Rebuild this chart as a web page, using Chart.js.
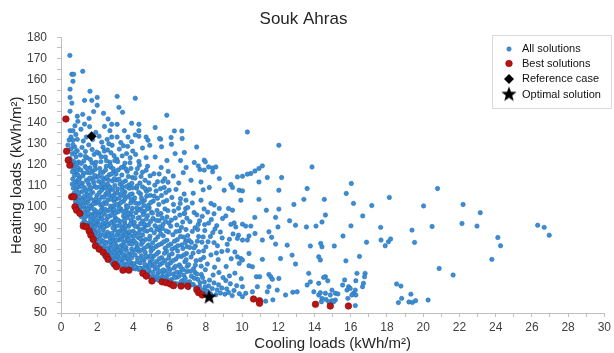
<!DOCTYPE html>
<html>
<head>
<meta charset="utf-8">
<script src="https://cdn.jsdelivr.net/npm/chart.js"></script>
<style>
html,body{margin:0;padding:0;background:#fff;}
#wrap{width:614px;height:353px;position:relative;}
</style>
</head>
<body>
<div id="wrap"><canvas id="c" width="614" height="353"></canvas></div>
<script>
// ---------- DATA ----------
const chartTitle = 'Souk Ahras';
const xAxisTitle = 'Cooling loads (kWh/m²)';
const yAxisTitle = 'Heating loads (kWh/m²)';
const xTickLabels = [0,2,4,6,8,10,12,14,16,18,20,22,24,26,28,30];
const yTickLabels = [50,60,70,80,90,100,110,120,130,140,150,160,170,180];
const legendLabels = ['All solutions','Best solutions','Reference case','Optimal solution'];

// All solutions, cooling load < 3
const allSolutionsA = [
[0.72,106.5],[0.85,108.2],[0.95,103.1],[0.8,102.4],[0.9,105.6],[0.98,109.5],[0.88,101.2],
[0.65,113.2],[0.7,117.8],[0.78,111.5],[0.84,115.3],[0.92,112.6],[0.96,118.4],[0.74,119.5],[0.88,117.1],[0.62,110.8],
[0.5,122.9],[0.55,127.4],[0.62,125.1],[0.7,121.6],[0.76,128.3],[0.83,123.7],[0.9,126.5],[0.97,121.2],[0.66,129.4],
[0.45,131.6],[0.55,133],[0.66,131.5],[0.5,136],[0.66,136],[0.82,134.2],[0.93,140.4],[0.77,138.3],[0.9,131.9],[0.38,129.2],
[0.9,142.8],[0.6,149],[0.5,145.2],[0.49,171.5],[0.6,162.6],[0.7,162.6],[0.66,159.3],[0.5,151.7],[0.5,155.6],
[1.72,87.3],[1.85,85.8],[1.95,83.4],[1.62,89.5],[1.8,88.9],[1.93,87.9],[1.58,92.1],
[1.05,98.9],[1.12,95.4],[1.28,93.5],[1.35,97.6],[1.42,92.3],[1.5,95.8],[1.57,99.2],[1.63,93.9],[1.7,91.4],[1.77,96.7],[1.84,94.1],[1.9,98.3],[1.96,91.8],[1.3,99.7],[1.45,90.8],[1.18,92.2],
[1.02,104.7],[1.08,101.3],[1.15,107.2],[1.22,103.6],[1.3,109.1],[1.36,101.9],[1.43,105.8],[1.5,102.6],[1.56,108.4],[1.63,104.2],[1.69,100.7],[1.75,106.9],[1.82,103.1],[1.88,109.6],[1.94,101.8],[1.99,105.5],
[1.04,113.8],[1.1,117.4],[1.18,111.2],[1.25,115.9],[1.33,119.1],[1.4,112.7],[1.47,116.3],[1.54,110.6],[1.6,118.5],[1.67,113.5],[1.74,116.9],[1.81,111.4],[1.88,119.6],[1.95,114.2],
[1.07,124.5],[1.16,128.1],[1.26,121.7],[1.35,126.2],[1.44,123.2],[1.53,129.3],[1.62,122.4],[1.72,127.1],[1.83,124.8],[1.93,121.1],
[1.1,136.7],[1.4,133],[1.23,131.1],[1.58,137.9],[1.75,131.8],[1.92,135.2],[1.3,139.1],
[1.2,143.7],[1.3,150.3],[1.7,150.3],[1.8,145],[1.55,141.8],[1.2,164],[1.6,154.6],
[2.25,79.6],[2.42,78.1],[2.55,77.9],[2.68,76.2],[2.75,78.8],[2.84,74.9],[2.9,77.1],[2.96,75.6],[2.62,79.3],[2.8,73.8],
[2.02,85.1],[2.07,88.6],[2.14,82.6],[2.2,86.9],[2.27,84.1],[2.33,89.2],[2.38,81.5],[2.45,86.1],[2.5,83.3],[2.57,88.1],[2.63,80.8],[2.7,85.4],[2.76,82.2],[2.82,87.6],[2.88,84.6],[2.93,80.3],[2.98,89.1],[2.35,83.7],
[2.03,93.4],[2.09,97.2],[2.15,90.6],[2.21,95.1],[2.28,99.3],[2.34,92.2],[2.4,96.5],[2.46,90.9],[2.52,94.3],[2.58,98.2],[2.64,91.7],[2.71,95.8],[2.77,99.6],[2.83,93.1],[2.89,97.4],[2.95,91.2],[2.99,95.0],[2.43,99.0],
[2.05,102.4],[2.12,106.8],[2.19,100.9],[2.26,104.7],[2.33,108.9],[2.4,102.1],[2.47,106.1],[2.54,109.7],[2.6,103.4],[2.67,107.5],[2.74,100.4],[2.81,105.2],[2.87,108.3],[2.93,102.9],[2.98,106.4],[2.3,101.3],
[2.06,114.5],[2.14,118.2],[2.23,111.6],[2.32,116.4],[2.41,113.1],[2.5,119.2],[2.58,110.7],[2.67,115.2],[2.75,118.8],[2.84,112.3],[2.92,116.9],[2.97,110.2],
[2.09,125.3],[2.2,121.4],[2.32,128.2],[2.45,123.6],[2.57,126.9],[2.7,121.1],[2.82,129.1],[2.93,124.2],
[2.1,133.4],[2.4,138],[2.8,139],[2.7,136],[2.8,133],[2.25,130.6],[2.55,131.9],
[2.0,151.7],[2.0,148],[2.35,144.2],[2.6,141.5]
];

// All solutions, cooling load 3 - 6
const allSolutionsB = [
[3.1,73.9],[3.15,76.8],[3.22,72.5],[3.3,78.9],[3.37,74.6],[3.45,71.3],[3.5,77.2],[3.56,73.1],[3.62,79.4],[3.68,75.3],[3.74,71.6],[3.8,77.8],[3.86,73.7],[3.91,76.1],[3.96,71.1],[3.26,75.6],
[3.02,82.3],[3.08,86.7],[3.14,80.6],[3.2,84.4],[3.27,88.8],[3.33,81.9],[3.4,86.2],[3.46,83.5],[3.53,89.4],[3.59,80.9],[3.65,85.3],[3.71,87.9],[3.78,82.7],[3.84,86.5],[3.9,80.2],[3.95,84.1],[3.99,88.6],[3.43,80.1],
[3.03,94.2],[3.1,91.1],[3.17,97.8],[3.24,93.3],[3.31,99.1],[3.38,90.4],[3.45,95.7],[3.52,92.6],[3.6,98.5],[3.67,94.9],[3.74,90.9],[3.81,96.6],[3.88,93.7],[3.94,99.4],[3.98,91.9],[3.56,96.2],
[3.05,103.8],[3.13,108.5],[3.21,101.4],[3.29,105.9],[3.37,109.4],[3.45,102.7],[3.53,107.1],[3.61,100.6],[3.69,104.9],[3.77,108.8],[3.85,101.9],[3.93,106.2],[3.98,103.3],
[3.06,112.7],[3.16,117.5],[3.26,110.9],[3.36,115.1],[3.46,119.1],[3.56,112.3],[3.66,116.8],[3.76,110.4],[3.86,118.2],[3.95,113.9],
[3.08,122.6],[3.22,127.3],[3.38,124.1],[3.53,120.7],[3.68,128.6],[3.82,123.2],[3.96,126.4],
[3.1,139],[3.1,133],[3.5,136],[3.7,133],[3.9,139.5],[3.3,130.4],[3.1,152.2],[3.2,147],[3.4,144.7],
[4.6,69.5],[4.78,68.3],[4.85,69.8],[4.95,66.9],[4.1,70.8],[4.3,70.5],
[4.03,73.2],[4.09,77.4],[4.16,71.5],[4.23,75.8],[4.3,79.1],[4.37,73.6],[4.44,77.0],[4.51,71.0],[4.58,74.9],[4.65,78.6],[4.72,72.2],[4.79,76.3],[4.86,70.7],[4.92,74.1],[4.97,79.3],[4.4,70.9],
[4.04,83.9],[4.11,87.5],[4.19,81.2],[4.27,85.6],[4.35,89.3],[4.43,82.4],[4.51,86.8],[4.59,80.5],[4.67,84.7],[4.75,88.6],[4.83,82.1],[4.91,86.2],[4.98,80.9],[4.55,89.8],
[4.05,92.8],[4.14,97.3],[4.23,90.7],[4.32,95.1],[4.41,99.2],[4.5,93.4],[4.6,97.8],[4.69,91.3],[4.78,95.9],[4.87,99.6],[4.95,93.2],[4.27,98.6],
[4.07,104.3],[4.17,108.9],[4.28,101.6],[4.39,106.2],[4.5,109.5],[4.61,103.1],[4.72,107.4],[4.83,100.8],[4.93,105.5],[4.45,102.4],
[4.08,113.6],[4.22,118.1],[4.36,111.3],[4.5,116.4],[4.64,112.6],[4.78,119.2],[4.92,114.7],
[4.12,124.8],[4.3,121.5],[4.5,127.8],[4.7,123.3],[4.9,129.1],
[4.1,134],[4.3,133.4],[4.3,136],[4.7,133],[4.8,131.5],[4.3,139],[4.1,151.3],
[5.1,67.2],[5.25,65.8],[5.35,68.9],[5.5,66.4],[5.62,69.1],[5.72,65.9],[5.85,67.6],[5.95,64.9],[5.42,65.3],[5.78,69.8],
[5.04,72.4],[5.12,76.9],[5.2,70.8],[5.29,74.3],[5.38,78.7],[5.47,72.9],[5.56,76.1],[5.65,70.3],[5.74,74.8],[5.83,79.2],[5.91,71.9],[5.97,77.3],[5.33,71.5],
[5.06,83.1],[5.15,87.8],[5.25,81.4],[5.35,85.9],[5.45,89.1],[5.55,82.7],[5.65,86.4],[5.75,80.6],[5.85,84.3],[5.94,88.2],[5.6,89.9],
[5.08,94.6],[5.19,91.2],[5.3,98.4],[5.41,93.5],[5.52,96.9],[5.63,91.8],[5.74,99.1],[5.85,95.3],[5.96,92.4],
[5.1,102.8],[5.25,107.6],[5.4,101.2],[5.55,105.4],[5.7,109.2],[5.84,103.1],[5.97,107.9],
[5.13,115.7],[5.33,111.9],[5.53,118.6],[5.73,113.4],[5.92,116.8],
[5.2,123.6],[5.55,128.4],[5.85,121.9],
[5.5,132],[5.44,132.3],[5.84,143.3],[5.2,137.5]
];

// All solutions, cooling load 6 - 10
const allSolutionsC = [
[6.1,65.8],[6.2,68.4],[6.32,64.1],[6.41,66.9],[6.5,63.6],[6.58,69.2],[6.7,65.2],[6.78,67.8],[6.88,63.9],[6.95,69.6],
[6.05,73.6],[6.14,77.9],[6.24,71.2],[6.34,75.4],[6.44,79.3],[6.54,72.7],[6.64,76.6],[6.74,70.5],[6.84,74.2],[6.93,78.1],[6.97,72.0],
[6.07,82.5],[6.18,86.9],[6.3,80.8],[6.42,84.6],[6.54,88.7],[6.66,82.1],[6.78,85.8],[6.9,89.4],[6.96,81.3],
[6.09,93.8],[6.24,98.1],[6.4,91.5],[6.56,96.2],[6.72,92.9],[6.88,99.2],[6.95,94.7],
[6.12,104.5],[6.35,108.3],[6.58,101.7],[6.8,106.1],[6.9,103.2],
[6.2,114.6],[6.5,111.3],[6.91,118.6],[6.75,116.2],
[6.3,125.2],[6.81,125.7],[6.6,121.9],[6.26,135.9],[6.67,135.9],[6.08,132.8],[6.69,132.3],[6.1,129.6],
[7.1,64.8],[7.2,67.3],[7.3,63.5],[7.4,69.1],[7.55,65.9],[7.65,62.4],[7.75,68.2],[7.85,60.9],[7.92,64.6],[7.95,59.3],[7.45,62.2],
[7.05,72.8],[7.18,76.4],[7.32,70.9],[7.46,74.7],[7.6,78.9],[7.74,72.1],[7.88,76.2],[7.97,70.4],
[7.08,84.2],[7.25,88.5],[7.42,81.6],[7.6,86.1],[7.78,83.4],[7.94,88.9],
[7.12,93.1],[7.35,97.4],[7.58,91.8],[7.8,95.6],
[7.73,103.2],[7.18,112.6],[7.73,111.8],[7.67,117.7],[7.91,117.4],[7.58,119.4],[7.36,121.0],[7.91,122.1],[7.97,121.3],[7.49,128.3],[7.3,106.5],[7.85,108.1],
[6.6,103.9],[7.0,99.8],[7.25,101.9],[7.5,96.3],[7.9,99.1],[8.1,97.6],[6.8,96.9],[7.4,90.2],[7.65,93.5],[8.3,94.1],[8.6,91.2],[7.0,86.5],[7.2,83.3],[7.55,89.4],[7.85,85.9],[8.25,86.1],[8.45,83.2],[8.8,88.2],[6.9,84.1],[7.35,80.7],[8.0,81.2],
[8.05,60.4],[8.15,62.8],[8.25,59.1],[8.35,61.5],[8.45,64.2],[8.55,58.6],[8.62,60.9],[8.7,63.3],[8.8,59.4],[8.88,61.8],[8.95,66.7],[8.4,67.9],[8.2,65.5],[8.72,69.1],[8.3,58.3],
[8.08,73.1],[8.28,77.4],[8.48,71.6],[8.68,75.2],[8.88,79.0],[8.58,78.3],
[8.12,83.6],[8.38,87.9],[8.64,81.7],[8.9,85.4],[8.5,89.6],
[8.15,92.4],[8.45,96.8],[8.74,99.3],[8.92,94.6],[8.28,101.7],[8.46,100.9],
[8.15,118.9],[8.37,118.4],[8.55,118.9],[8.37,116.6],[8.74,113.4],[8.19,109.2],
[9.05,58.9],[9.15,61.4],[9.25,59.7],[9.35,63.8],[9.45,58.2],[9.55,60.6],[9.7,62.9],[9.85,59.1],[9.95,66.2],[9.3,67.5],[9.6,68.8],[9.1,65.3],
[9.12,71.9],[9.4,75.6],[9.74,76.5],[9.93,75.7],[9.84,73.4],[9.6,78.8],[9.2,79.5],
[9.18,82.4],[9.5,87.3],[9.8,86.7],[9.74,85.2],[9.3,84.8],[9.65,90.6],
[9.56,92.5],[9.38,91.8],[9.25,99.3],[9.47,98.5],[9.1,95.8],
[9.93,103.2],[9.01,107.9],[9.84,107.9],[9.38,110.6],[9.47,109.2],[9.74,114.2]
];

// All solutions, cooling load > 10 (sparse tail)
const allSolutionsD = [
[10.29,135.4],[12.03,129.1],[11.12,119.4],[10.93,118.2],[10.71,117.0],[10.48,115.8],[10.29,115.5],[10.02,114.5],[13.86,118.9],[12.18,113.9],[11.39,113.9],[10.93,111.8],[10.02,107.6],[12.03,107.9],[13.59,108.7],[14.54,103.6],[13.41,103.6],[12.86,101.2],[10.93,103.6],[11.34,98.5],[12.03,99.0],[11.85,95.1],[12.62,93.5],[12.95,91.4],[11.98,90.6],[14.08,91.0],[13.55,90.6],[10.7,95.1],[10.02,91.9],[10.2,91.0],[10.48,91.0],[14.6,96.2],[11.48,88.3],[11.63,85.7],[10.71,87.5],[11.12,84.4],[10.38,86.3],[10.29,84.4],[10.02,84.4],[11.85,82.5],[12.49,82.0],[12.76,77.3],[13.77,81.6],[14.41,81.2],[14.23,76.5],[12.95,73.1],[12.12,75.7],[11.12,75.3],[10.38,78.1],[10.57,71.8],[10.38,72.3],[10.02,75.0],[11.48,68.2],[11.58,67.1],[11.67,65.9],[10.79,67.1],[10.97,67.1],[12.03,66.3],[13.68,68.7],[13.59,63.2],[13.77,64.7],[14.6,67.1],[13.96,60.0],[14.23,58.5],[13.04,60.0],[11.94,60.8],[11.48,62.4],[11.39,60.0],[10.84,62.4],[10.57,60.0],[10.02,62.4],[10.2,59.3],[10.02,57.7],[11.3,55.6],[11.7,56.2],[12.4,58.5],[12.8,59.8],
[16.03,111.1],[15.75,106.4],[16.15,101.7],[17.16,100.7],[18.13,104.5],[20.79,108.7],[22.2,101.2],[20.02,100.5],[16.66,95.8],[14.41,92.9],[16.01,91.1],[17.65,90.4],[19.38,89.1],[20.49,90.8],[22.14,92.2],[15.57,86.3],[14.34,82.8],[15.09,81.6],[16.87,83.4],[17.67,84.4],[18.08,83.6],[18.2,84.9],[17.9,81.7],[19.52,83.3],[16.48,76.7],[15.73,74.6],[14.32,75.0],[20.88,71.0],[21.65,67.9],
[16.34,68.7],[16.79,68.7],[16.76,67.1],[16.28,65.2],[16.7,64.0],[16.65,62.4],[15.66,65.6],[14.5,66.8],[14.73,65.2],[18.53,63.7],[18.77,62.7],[19.32,58.9],[18.63,54.9],[19.21,55.2],[19.4,55.0],[19.58,55.8],[18.81,56.9],[20.27,56.1],[15.55,63.2],[15.88,62.4],[15.97,61.6],[15.79,60.8],[16.25,60.8],[16.15,59.3],[16.28,58.5],[16.06,58.5],[14.23,64.0],[14.32,59.6],[14.6,59.3],[14.87,58.5],[15.15,59.3],[15.29,59.0],[14.96,60.8],[14.41,56.9],[14.63,56.4],[14.96,55.8],[15.15,56.1],[14.38,55.3],[14.78,55.3],[15.05,55.3],[16.25,53.5],[15.84,56.9],
[23.15,97.3],[22.97,91.0],[26.32,91.4],[26.68,90.4],[26.96,86.7],[24.12,85.6],[24.27,81.7],[23.79,75.3]
];

// All solutions, extra points of the dense core (cooling load 0.6 - 8)
const allSolutionsE = [
[0.68,108.9],[0.81,104.3],[0.93,99.6],[0.75,114.9],[0.99,106.7],[0.87,120.4],[0.63,116.6],[0.94,115.1],[0.79,125.8],[0.58,120.9],[0.86,110.2],[0.97,112.9],
[1.07,100.2],[1.33,95.2],[1.61,91.1],[1.88,90.3],[1.14,109.8],[1.47,103.9],[1.79,101.5],[1.26,97.3],[1.52,97.1],[1.91,96.1],[1.38,107.6],[1.67,109.1],[1.21,114.7],[1.58,113.6],[1.86,114.9],[1.11,120.6],[1.42,118.2],[1.71,120.9],[1.97,109.2],[1.83,92.7],[1.74,89.1],[1.99,86.2],[1.55,100.4],[1.29,105.1],[1.64,106.2],[1.93,103.9],[1.19,103.1],[1.48,111.8],[1.77,112.6],[1.37,92.6],[1.04,111.6],[1.9,117.8],[1.62,116.1],[1.34,123.9],[1.98,125.9],[1.45,99.1],[1.81,98.9],[1.68,95.6],[1.23,100.7],[1.94,93.8],
[2.04,81.4],[2.18,84.8],[2.29,80.2],[2.47,82.9],[2.61,86.7],[2.79,80.1],[2.91,82.6],[2.36,87.1],[2.53,79.9],[2.71,83.6],[2.86,85.9],[2.99,78.4],[2.41,76.9],[2.66,77.3],[2.88,72.9],
[2.13,91.7],[2.26,94.2],[2.37,90.4],[2.49,92.6],[2.62,95.5],[2.74,92.4],[2.87,90.1],[2.97,93.3],[2.08,95.9],[2.31,97.4],[2.56,91.3],[2.69,98.7],[2.81,96.4],[2.94,98.8],[2.19,98.2],
[2.11,103.3],[2.24,107.9],[2.38,104.6],[2.51,101.6],[2.63,105.8],[2.77,103.7],[2.9,100.6],[2.16,109.6],[2.44,109.1],[2.7,109.4],[2.96,104.1],[2.57,107.1],
[2.08,112.1],[2.28,113.9],[2.46,117.4],[2.62,112.8],[2.79,115.6],[2.95,113.4],[2.18,116.2],[2.37,110.8],[2.72,119.8],[2.53,114.1],[2.88,118.1],
[2.22,123.7],[2.51,121.8],[2.76,125.6],[2.39,126.4],[2.64,129.8],[2.97,121.9],
[3.04,75.1],[3.19,78.2],[3.34,73.3],[3.48,75.8],[3.63,72.4],[3.78,74.3],[3.93,78.6],[3.12,79.6],[3.41,77.6],[3.7,77.1],[3.85,71.9],[3.55,70.9],
[3.06,84.4],[3.23,81.1],[3.36,84.9],[3.51,81.6],[3.64,83.9],[3.79,88.4],[3.92,82.5],[3.16,88.1],[3.44,88.2],[3.73,84.6],[3.58,86.9],[3.29,86.3],
[3.01,97.1],[3.14,93.9],[3.28,91.4],[3.42,97.9],[3.57,91.1],[3.71,96.9],[3.84,92.1],[3.97,95.3],[3.21,99.6],[3.49,93.8],[3.65,99.8],[3.89,97.7],
[3.07,101.1],[3.22,104.2],[3.39,107.8],[3.54,103.9],[3.68,100.1],[3.82,105.9],[3.96,109.1],[3.31,102.1],[3.6,109.6],[3.11,106.6],[3.47,105.3],[3.88,103.6],
[3.04,115.6],[3.2,113.1],[3.41,111.6],[3.58,117.9],[3.72,114.4],[3.91,111.2],[3.33,118.6],[3.81,120.9],[3.13,121.4],[3.62,125.2],[3.44,128.9],[3.9,130.8],
[4.06,71.8],[4.21,74.1],[4.34,71.1],[4.48,75.3],[4.63,72.9],[4.76,70.1],[4.89,72.8],[4.13,79.8],[4.42,79.6],[4.69,76.9],[4.94,77.1],[4.56,69.1],[4.82,67.9],
[4.02,86.1],[4.16,82.9],[4.31,87.8],[4.46,84.2],[4.61,88.9],[4.74,81.3],[4.88,84.8],[4.24,80.4],[4.53,83.5],[4.97,89.3],[4.38,85.1],
[4.09,90.9],[4.25,94.7],[4.39,92.1],[4.54,96.4],[4.71,94.3],[4.84,91.6],[4.99,97.6],[4.18,99.5],[4.47,98.1],[4.76,99.1],[4.6,91.9],
[4.11,101.9],[4.29,106.9],[4.44,104.3],[4.58,100.7],[4.73,105.1],[4.89,108.3],[4.2,109.9],[4.65,108.6],[4.96,102.1],
[4.14,115.9],[4.42,114.4],[4.7,117.3],[4.85,111.4],[4.33,119.8],
[5.07,69.1],[5.18,66.3],[5.31,67.4],[5.46,69.7],[5.58,67.2],[5.69,66.8],[5.88,65.6],[5.97,68.3],
[5.03,75.2],[5.16,73.1],[5.28,77.8],[5.43,75.6],[5.6,73.6],[5.71,78.2],[5.87,72.9],[5.95,75.8],
[5.09,80.3],[5.22,84.6],[5.39,82.1],[5.51,87.3],[5.68,83.6],[5.81,88.7],[5.92,81.8],[5.3,89.5],
[5.05,97.1],[5.26,93.7],[5.44,90.6],[5.59,94.8],[5.77,93.2],[5.9,98.3],[5.36,96.4],
[5.14,105.2],[5.33,104.1],[5.49,108.6],[5.66,102.4],[5.79,106.8],[5.18,110.3],[5.62,112.1],[5.91,111.7],[5.42,115.6],
[6.04,64.9],[6.16,63.8],[6.27,66.7],[6.39,69.3],[6.52,67.4],[6.63,64.8],[6.76,63.4],[6.86,66.3],[6.99,64.4],
[6.02,70.4],[6.19,74.7],[6.33,72.1],[6.47,76.8],[6.61,71.6],[6.79,77.4],[6.91,75.1],
[6.13,80.1],[6.27,83.9],[6.45,81.7],[6.6,86.1],[6.73,80.4],[6.86,83.2],[6.35,88.4],
[6.06,90.9],[6.31,94.8],[6.49,99.4],[6.65,90.4],[6.83,97.1],[6.21,101.2],
[7.04,61.9],[7.22,63.3],[7.36,66.4],[7.5,68.4],[7.68,64.3],[7.82,66.7],[7.96,62.3],[7.14,69.7],[7.42,72.6],[7.7,75.1],[7.87,79.3],[7.29,78.2],[7.11,80.9],[7.53,83.9],[7.93,91.7]
];

const bestSolutions = [
[0.27,141.5],[0.31,126.3],[0.40,122.1],[0.49,119.7],[0.59,104.8],[0.71,104.8],[0.77,100.1],[0.86,98.5],[1.04,97.0],[1.23,91.0],[1.41,90.6],[1.56,88.6],[1.65,86.7],[1.78,84.7],[1.90,81.7],[2.11,80.1],[2.33,78.6],[2.51,76.8],[2.60,75.3],[2.97,72.9],[3.06,71.8],[3.42,70.2],[3.75,70.2],[4.52,68.7],[4.71,67.4],[5.02,65.1],[5.58,64.7],[5.80,64.3],[6.03,63.7],[6.21,62.9],[6.63,62.7],[7.0,62.7],[7.5,61.0],[7.6,59.6],[7.8,58.5],[10.63,56.6],[10.96,55.8],[10.96,54.6],[14.05,54.1],[14.87,53.3],[15.87,53.3]
];
const referenceCase = [[1.69,133.4]];
const optimalSolution = [[8.18,57.4]];

// ---------- CHART ----------
const toXY = arr => arr.map(p => ({x: p[0], y: p[1]}));
const allSolutions = [].concat(allSolutionsA, allSolutionsB, allSolutionsC, allSolutionsD, allSolutionsE);

const BLUE = '#3a8ed6', BLUE_EDGE = '#2c72b4';
const RED = '#b81414', RED_EDGE = '#8e0a0a';

function makeStar(r) {
  const c = document.createElement('canvas');
  c.width = c.height = 2 * r + 2;
  const g = c.getContext('2d');
  g.beginPath();
  for (let i = 0; i < 10; i++) {
    const a = -Math.PI / 2 + i * Math.PI / 5;
    const rr = (i % 2) ? r * 0.42 : r;
    g.lineTo(r + 1 + rr * Math.cos(a), r + 1 + rr * Math.sin(a));
  }
  g.closePath();
  g.fillStyle = '#000';
  g.fill();
  return c;
}
const starImg = makeStar(8);

const FONT = "'Liberation Sans', Arial, sans-serif";

const legendPlugin = {
  id: 'boxLegend',
  afterDraw(chart) {
    const ctx = chart.ctx;
    ctx.save();
    const bx = 492.5, by = 35.5, bw = 119, bh = 73;
    ctx.fillStyle = '#fff';
    ctx.fillRect(bx, by, bw, bh);
    ctx.strokeStyle = '#d9d9d9';
    ctx.lineWidth = 1;
    ctx.strokeRect(bx, by, bw, bh);
    const mx = 509, tx = 522;
    const rows = [49, 63.5, 79, 94.5];
    ctx.font = '11px ' + FONT;
    ctx.fillStyle = '#111';
    ctx.textBaseline = 'middle';
    ctx.textAlign = 'left';
    legendLabels.forEach((t, i) => ctx.fillText(t, tx, rows[i]));
    ctx.beginPath(); ctx.arc(mx, rows[0], 2.2, 0, Math.PI * 2);
    ctx.fillStyle = BLUE; ctx.fill(); ctx.lineWidth = 0.6; ctx.strokeStyle = BLUE_EDGE; ctx.stroke();
    ctx.beginPath(); ctx.arc(mx, rows[1], 3.3, 0, Math.PI * 2);
    ctx.fillStyle = RED; ctx.fill(); ctx.strokeStyle = RED_EDGE; ctx.stroke();
    ctx.beginPath();
    ctx.moveTo(mx, rows[2] - 5); ctx.lineTo(mx + 5, rows[2]); ctx.lineTo(mx, rows[2] + 5); ctx.lineTo(mx - 5, rows[2]);
    ctx.closePath(); ctx.fillStyle = '#000'; ctx.fill();
    ctx.drawImage(starImg, mx - starImg.width / 2, rows[3] - starImg.height / 2);
    ctx.restore();
  }
};

new Chart(document.getElementById('c'), {
  type: 'scatter',
  data: {
    datasets: [
      { label: legendLabels[3], data: toXY(optimalSolution), pointStyle: starImg, order: 1 },
      { label: legendLabels[2], data: toXY(referenceCase), pointStyle: 'rectRot', pointRadius: 5, backgroundColor: '#000', borderColor: '#000', borderWidth: 0, order: 2 },
      { label: legendLabels[1], data: toXY(bestSolutions), pointRadius: 3.3, backgroundColor: RED, borderColor: RED_EDGE, borderWidth: 0.6, order: 3 },
      { label: legendLabels[0], data: toXY(allSolutions), pointRadius: 2.2, backgroundColor: BLUE, borderColor: BLUE_EDGE, borderWidth: 0.6, order: 4 }
    ]
  },
  options: {
    responsive: false,
    animation: false,
    devicePixelRatio: 1,
    layout: { padding: { left: 0, right: 7, top: 0, bottom: 0 } },
    plugins: {
      legend: { display: false },
      tooltip: { enabled: false },
      title: {
        display: true, text: chartTitle, color: '#262626',
        font: { family: FONT, size: 17, weight: 'normal' },
        padding: { top: 9, bottom: 8 }
      }
    },
    scales: {
      x: {
        type: 'linear', min: xTickLabels[0], max: xTickLabels[xTickLabels.length - 1],
        afterFit: s => { s.height = 40; },
        ticks: {
          stepSize: 1, autoSkip: false, maxRotation: 0, padding: 3, color: '#404040',
          font: { family: FONT, size: 12 },
          callback: v => xTickLabels.includes(v) ? String(v) : ''
        },
        grid: { drawOnChartArea: false, drawTicks: true, tickLength: 4, color: '#bfbfbf' },
        border: { display: true, color: '#bfbfbf' },
        title: { display: true, text: xAxisTitle, color: '#262626', font: { family: FONT, size: 15 }, padding: { top: 1, bottom: 0 } }
      },
      y: {
        type: 'linear', min: yTickLabels[0], max: yTickLabels[yTickLabels.length - 1],
        afterFit: s => { s.width = 61; },
        ticks: {
          stepSize: 5, autoSkip: false, padding: 10, color: '#404040',
          font: { family: FONT, size: 12 },
          callback: v => yTickLabels.includes(v) ? String(v) : ''
        },
        grid: { drawOnChartArea: false, drawTicks: true, tickLength: 4, color: '#bfbfbf' },
        border: { display: true, color: '#bfbfbf' },
        title: { display: true, text: yAxisTitle, color: '#262626', font: { family: FONT, size: 15 }, padding: { top: 8, bottom: 0 } }
      }
    }
  },
  plugins: [legendPlugin]
});
</script>
</body>
</html>
